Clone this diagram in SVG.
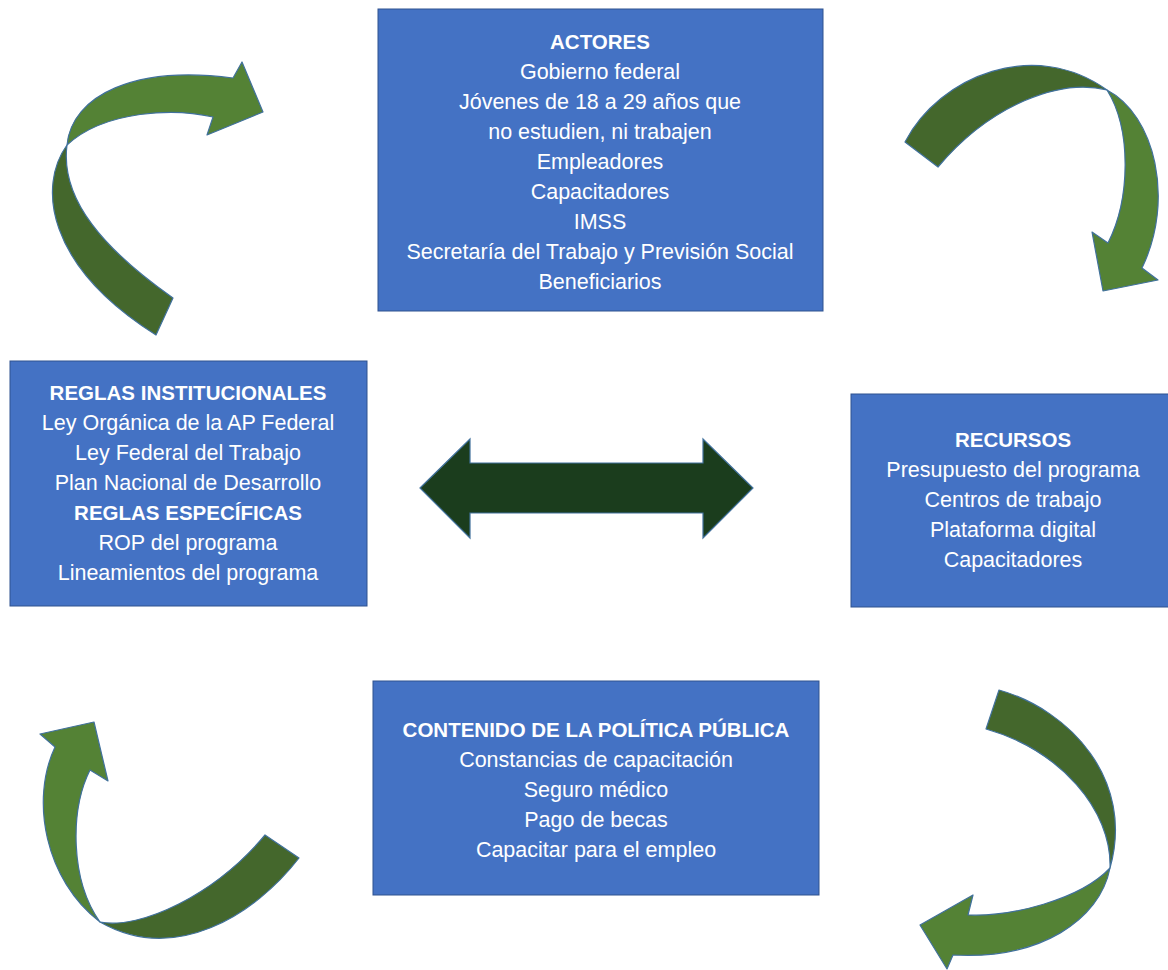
<svg xmlns="http://www.w3.org/2000/svg" width="1168" height="970" viewBox="0 0 1168 970">
<style>
.box{fill:#4472c4;stroke:#2f528f;stroke-width:1}
.t{font-family:"Liberation Sans",Arial,sans-serif;font-size:21.5px;fill:#ffffff;text-anchor:middle}
.b{font-weight:bold;font-size:20.5px}
.dk{fill:#44672c;stroke:#41719c;stroke-width:1.2;stroke-linejoin:round}
.lt{fill:#548235;stroke:#41719c;stroke-width:1.2;stroke-linejoin:round}
.dbl{fill:#1b3d1d;stroke:#41719c;stroke-width:1.2}
</style>
<rect width="1168" height="970" fill="#ffffff"/>
<g id="actores">
<rect class="box" x="378" y="9" width="445" height="302"/>
<text class="t b" x="600" y="49">ACTORES</text>
<text class="t" x="600" y="79">Gobierno federal</text>
<text class="t" x="600" y="109">Jóvenes de 18 a 29 años que</text>
<text class="t" x="600" y="139">no estudien, ni trabajen</text>
<text class="t" x="600" y="169">Empleadores</text>
<text class="t" x="600" y="199">Capacitadores</text>
<text class="t" x="600" y="229">IMSS</text>
<text class="t" x="600" y="259">Secretaría del Trabajo y Previsión Social</text>
<text class="t" x="600" y="289">Beneficiarios</text>
</g>
<g id="reglas">
<rect class="box" x="10" y="361" width="357" height="245"/>
<text class="t b" x="188" y="400">REGLAS INSTITUCIONALES</text>
<text class="t" x="188" y="430">Ley Orgánica de la AP Federal</text>
<text class="t" x="188" y="460">Ley Federal del Trabajo</text>
<text class="t" x="188" y="490">Plan Nacional de Desarrollo</text>
<text class="t b" x="188" y="520">REGLAS ESPECÍFICAS</text>
<text class="t" x="188" y="550">ROP del programa</text>
<text class="t" x="188" y="580">Lineamientos del programa</text>
</g>
<g id="recursos">
<rect class="box" x="851" y="394" width="324" height="213"/>
<text class="t b" x="1013" y="447">RECURSOS</text>
<text class="t" x="1013" y="477">Presupuesto del programa</text>
<text class="t" x="1013" y="507">Centros de trabajo</text>
<text class="t" x="1013" y="537">Plataforma digital</text>
<text class="t" x="1013" y="567">Capacitadores</text>
</g>
<g id="contenido">
<rect class="box" x="373" y="681" width="446" height="214"/>
<text class="t b" x="596" y="737">CONTENIDO DE LA POLÍTICA PÚBLICA</text>
<text class="t" x="596" y="767">Constancias de capacitación</text>
<text class="t" x="596" y="797">Seguro médico</text>
<text class="t" x="596" y="827">Pago de becas</text>
<text class="t" x="596" y="857">Capacitar para el empleo</text>
</g>
<g id="connectors">
<g id="arrow-top-left">
<path class="dk" d="M67,145 C38,185 45,265 156,335 L173,298 C105,250 60,200 67,145 Z"/>
<path class="lt" d="M67,145 C72,95 135,65 233,78 L242,62 L263,112 L207,135 L213,117 C175,108 105,110 67,145 Z"/>
</g>
<g id="arrow-top-right">
<path class="dk" d="M905,142 C940,75 1035,38 1107,90 C1060,78 990,105 938,167 Z"/>
<path class="lt" d="M1107,90 C1155,115 1175,200 1142,268 L1158,280 L1103,291 L1092,232 L1108,243 C1130,200 1132,130 1107,90 Z"/>
</g>
<g id="arrow-bottom-right">
<path class="dk" d="M999,690 C1070,710 1135,780 1110,868 C1112,810 1060,750 986,729 Z"/>
<path class="lt" d="M1110,868 C1100,920 1040,960 953,955 L947,969 L920,925 L973,895 L968,915 C1010,917 1080,900 1110,868 Z"/>
</g>
<g id="arrow-bottom-left">
<path class="dk" d="M265,835 L299,858 C255,915 175,965 100,922 C140,930 215,895 265,835 Z"/>
<path class="lt" d="M100,922 C45,880 30,800 55,747 L40,734 L94,722 L108,781 L90,770 C70,810 70,880 100,922 Z"/>
</g>
<path id="arrow-double" class="dbl" d="M420,488 L470,439 L470,463 L703,463 L703,439 L753,488 L703,538 L703,513 L470,513 L470,538 Z"/>
</g>
</svg>
